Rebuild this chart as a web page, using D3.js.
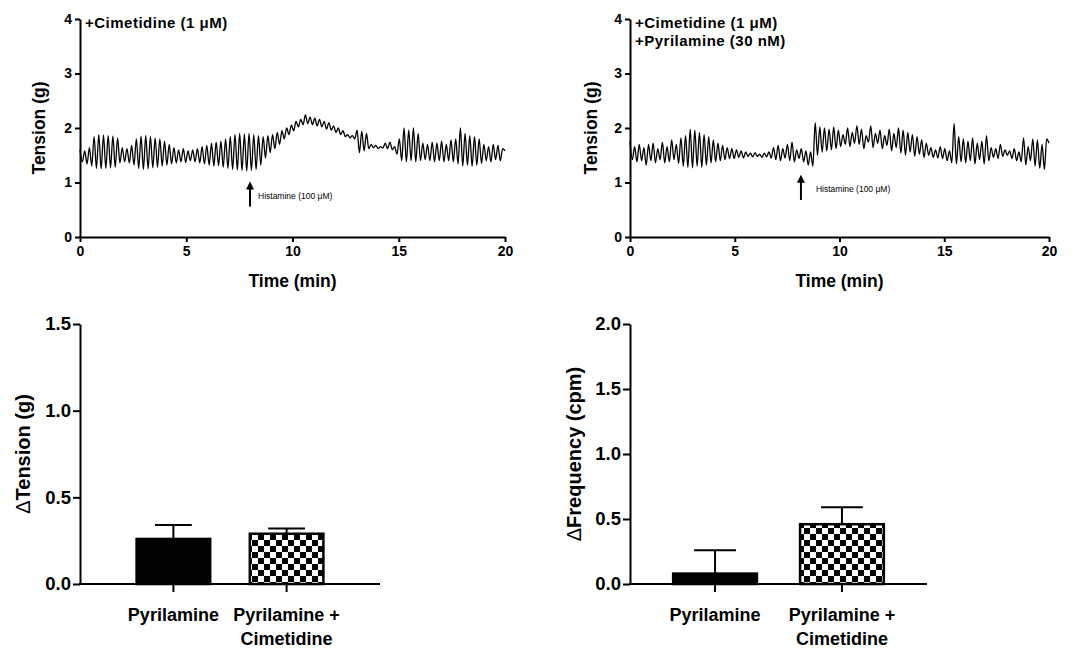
<!DOCTYPE html>
<html>
<head>
<meta charset="utf-8">
<script src="https://cdn.jsdelivr.net/npm/d3@7"></script>
<style>
  body { margin: 0; background: white; }
  svg { font-family: "Liberation Sans", Arial, sans-serif; font-weight: bold; }
  .axis path, .axis line { stroke: black; stroke-width: 2px; }
  .axis text { fill: black; font-family: "Liberation Sans", Arial, sans-serif; font-weight: bold; }
</style>
</head>
<body>
<svg width="1088" height="650"></svg>
<script>
// tension recordings, one sample every 20/181 min
var traceCimetidine = [
  1.60, 1.38, 1.58, 1.34, 1.64, 1.30, 1.84, 1.26, 1.88,
  1.25, 1.87, 1.26, 1.86, 1.27, 1.85, 1.28, 1.82, 1.36,
  1.64, 1.38, 1.62, 1.36, 1.68, 1.32, 1.80, 1.26, 1.85,
  1.24, 1.86, 1.25, 1.84, 1.27, 1.82, 1.28, 1.80, 1.30,
  1.76, 1.32, 1.70, 1.34, 1.64, 1.36, 1.60, 1.38, 1.62,
  1.37, 1.58, 1.40, 1.60, 1.38, 1.62, 1.36, 1.66, 1.34,
  1.68, 1.32, 1.72, 1.30, 1.74, 1.31, 1.76, 1.28, 1.80,
  1.26, 1.84, 1.24, 1.88, 1.23, 1.90, 1.22, 1.89, 1.21,
  1.90, 1.22, 1.88, 1.24, 1.86, 1.32, 1.84, 1.45, 1.86,
  1.55, 1.88, 1.62, 1.92, 1.70, 1.95, 1.80, 2.00, 1.88,
  2.05, 1.95, 2.12, 2.02, 2.16, 2.06, 2.24, 2.08, 2.20,
  2.06, 2.18, 2.04, 2.16, 2.02, 2.12, 1.98, 2.10, 1.96,
  2.04, 1.92, 2.00, 1.88, 1.95, 1.84, 1.88, 1.82, 1.86,
  1.80, 1.96, 1.55, 1.94, 1.58, 1.90, 1.62, 1.70, 1.64,
  1.68, 1.62, 1.66, 1.63, 1.72, 1.62, 1.74, 1.60, 1.66,
  1.52, 1.80, 1.40, 2.00, 1.38, 1.96, 1.40, 2.00, 1.38,
  1.90, 1.40, 1.72, 1.42, 1.70, 1.40, 1.74, 1.38, 1.72,
  1.40, 1.76, 1.38, 1.70, 1.40, 1.78, 1.38, 1.80, 1.34,
  2.00, 1.30, 1.90, 1.32, 1.86, 1.30, 1.84, 1.32, 1.80,
  1.35, 1.70, 1.40, 1.66, 1.38, 1.70, 1.42, 1.68, 1.40,
  1.62, 1.58
]

var tracePyrilamine = [
  1.76, 1.42, 1.66, 1.38, 1.70, 1.40, 1.64, 1.32, 1.70,
  1.40, 1.72, 1.36, 1.62, 1.42, 1.74, 1.36, 1.66, 1.38,
  1.78, 1.42, 1.70, 1.35, 1.82, 1.30, 1.86, 1.28, 1.98,
  1.27, 1.96, 1.30, 1.92, 1.28, 1.88, 1.32, 1.84, 1.36,
  1.78, 1.38, 1.72, 1.40, 1.68, 1.42, 1.64, 1.44, 1.62,
  1.44, 1.60, 1.46, 1.58, 1.45, 1.56, 1.48, 1.54, 1.47,
  1.55, 1.48, 1.52, 1.46, 1.54, 1.47, 1.56, 1.45, 1.64,
  1.42, 1.68, 1.40, 1.62, 1.45, 1.70, 1.40, 1.74, 1.38,
  1.60, 1.44, 1.62, 1.38, 1.58, 1.32, 1.56, 1.30, 2.10,
  1.50, 2.02, 1.56, 2.00, 1.58, 1.98, 1.60, 2.02, 1.62,
  1.96, 1.66, 1.88, 1.70, 2.00, 1.66, 1.92, 1.72, 2.04,
  1.70, 1.98, 1.62, 1.86, 1.74, 2.04, 1.64, 1.90, 1.72,
  1.96, 1.62, 1.86, 1.68, 1.98, 1.58, 1.90, 1.64, 2.00,
  1.54, 1.96, 1.50, 1.92, 1.56, 1.88, 1.48, 1.84, 1.52,
  1.78, 1.46, 1.72, 1.50, 1.64, 1.46, 1.60, 1.45, 1.66,
  1.44, 1.62, 1.40, 1.58, 1.36, 2.08, 1.34, 1.84, 1.38,
  1.80, 1.36, 1.76, 1.40, 1.82, 1.34, 1.72, 1.42, 1.76,
  1.34, 1.86, 1.40, 1.64, 1.46, 1.62, 1.44, 1.70, 1.48,
  1.60, 1.50, 1.58, 1.44, 1.62, 1.40, 1.56, 1.38, 1.82,
  1.32, 1.66, 1.40, 1.80, 1.30, 1.78, 1.26, 1.70, 1.24,
  1.80, 1.72
]

var traceMinutes = 20
var tensionTicks = [0, 1, 2, 3, 4]
var timeTicks = [0, 5, 10, 15, 20]
var histamineTime = [8, 8.16]
var histamineArrow = [[0.56, 1.02], [0.68, 1.14]]
var traceNotes = [
  ["+Cimetidine (1 \u03bcM)"],
  ["+Cimetidine (1 \u03bcM)", "+Pyrilamine (30 nM)"]
]

var categories = ["Pyrilamine", "Pyrilamine + Cimetidine"]
var categoryLines = [["Pyrilamine"], ["Pyrilamine +", "Cimetidine"]]
var tensionMean = [0.26, 0.29]
var tensionSem = [0.08, 0.03]
var frequencyMean = [0.08, 0.46]
var frequencySem = [0.18, 0.13]
var tensionBarTicks = [0, 0.5, 1.0, 1.5]
var frequencyBarTicks = [0, 0.5, 1.0, 1.5, 2.0]

var svg = d3.select("svg")

var pattern = svg.append("defs").append("pattern")
  .attr("id", "checker")
  .attr("patternUnits", "userSpaceOnUse")
  .attr("width", 12).attr("height", 12)
pattern.append("rect").attr("width", 12).attr("height", 12).attr("fill", "white")
pattern.append("rect").attr("width", 6).attr("height", 6).attr("fill", "black")
pattern.append("rect").attr("x", 6).attr("y", 6).attr("width", 6).attr("height", 6).attr("fill", "black")

function tracePanel(box, data, k) {
  let
    time = d3.scaleLinear().domain([0, traceMinutes]).range([box.left, box.right]),
    tension = d3.scaleLinear().domain([0, 4]).range([box.bottom, box.top]),
    step = traceMinutes / (data.length - 1)

  let line = d3.line()
    .x((d, i) => time(i * step))
    .y(d => tension(d))
    .curve(d3.curveMonotoneX)

  svg.append("path")
    .attr("d", line(data))
    .attr("fill", "none")
    .attr("stroke", "black")
    .attr("stroke-width", 1.3)

  svg.append("g").attr("class", "axis")
    .attr("transform", `translate(0,${box.bottom})`)
    .call(d3.axisBottom(time).tickValues(timeTicks).tickFormat(d3.format("d"))
      .tickSize(5).tickSizeOuter(0).tickPadding(4))
    .selectAll("text").style("font-size", "14px")

  svg.append("g").attr("class", "axis")
    .attr("transform", `translate(${box.left},0)`)
    .call(d3.axisLeft(tension).tickValues(tensionTicks).tickFormat(d3.format("d"))
      .tickSize(5).tickSizeOuter(0).tickPadding(3))
    .selectAll("text").style("font-size", "14px")

  svg.append("text")
    .attr("x", (box.left + box.right) / 2)
    .attr("y", box.bottom + 50)
    .style("text-anchor", "middle")
    .style("font-size", "17.5px")
    .text("Time (min)")

  svg.append("text")
    .attr("transform", `translate(${box.titleX},${(box.top + box.bottom) / 2}) rotate(270)`)
    .style("text-anchor", "middle")
    .style("dominant-baseline", "middle")
    .style("font-size", "17.5px")
    .text("Tension (g)")

  traceNotes[k].forEach((note, i) => {
    svg.append("text")
      .attr("x", box.left + 5)
      .attr("y", 28 + i * 17.5)
      .style("font-size", "15px")
      .style("letter-spacing", "0.5px")
      .text(note)
  })

  let
    ax = time(histamineTime[k]),
    [a0, a1] = histamineArrow[k].map(v => tension(v))

  svg.append("line")
    .attr("x1", ax).attr("x2", ax)
    .attr("y1", a0).attr("y2", a1 + 6)
    .attr("stroke", "black")
    .attr("stroke-width", 2)

  svg.append("path")
    .attr("d", `M${ax - 4},${a1 + 8} L${ax},${a1} L${ax + 4},${a1 + 8} Z`)
    .attr("fill", "black")

  svg.append("text")
    .attr("x", ax + box.noteGap)
    .attr("y", (a0 + a1) / 2 + 5)
    .style("font-size", "8.5px")
    .style("font-weight", "normal")
    .text("Histamine (100 \u03bcM)")
}

function barPanel(box, mean, sem, yTicks, yMax, title) {
  let
    x = d3.scaleBand().domain(categories).range([box.left, box.right])
      .paddingInner(box.padInner).paddingOuter(box.padOuter),
    y = d3.scaleLinear().domain([0, yMax]).range([box.bottom, box.top])

  svg.append("g").selectAll("rect")
    .data(categories)
    .join("rect")
    .attr("x", d => x(d))
    .attr("width", x.bandwidth())
    .attr("y", (d, i) => y(mean[i]))
    .attr("height", (d, i) => y(0) - y(mean[i]))
    .attr("fill", (d, i) => i == 0 ? "black" : "url(#checker)")
    .attr("stroke", "black")
    .attr("stroke-width", 2.5)

  let err = svg.append("g").attr("stroke", "black").attr("stroke-width", 2)
  categories.forEach((c, i) => {
    let cx = x(c) + x.bandwidth() / 2, cap = x.bandwidth() / 4
    err.append("line")
      .attr("x1", cx).attr("x2", cx)
      .attr("y1", y(mean[i])).attr("y2", y(mean[i] + sem[i]))
    err.append("line")
      .attr("x1", cx - cap).attr("x2", cx + cap)
      .attr("y1", y(mean[i] + sem[i])).attr("y2", y(mean[i] + sem[i]))
  })

  let xAxis = svg.append("g").attr("class", "axis")
    .attr("transform", `translate(0,${box.bottom})`)
    .call(d3.axisBottom(x).tickSize(8).tickSizeOuter(0).tickFormat(""))
  xAxis.select(".domain").attr("d", `M${box.left - 1},0H${box.right}`)

  categories.forEach((c, i) => {
    let t = svg.append("text")
      .attr("x", x(c) + x.bandwidth() / 2)
      .attr("y", box.bottom + 37)
      .style("text-anchor", "middle")
      .style("font-size", "18px")
    categoryLines[i].forEach((s, j) => {
      t.append("tspan")
        .attr("x", x(c) + x.bandwidth() / 2)
        .attr("dy", j == 0 ? 0 : 24)
        .text(s)
    })
  })

  svg.append("g").attr("class", "axis")
    .attr("transform", `translate(${box.left},0)`)
    .call(d3.axisLeft(y).tickValues(yTicks).tickFormat(d3.format(".1f")).tickSize(7).tickSizeOuter(0).tickPadding(2))
    .selectAll("text").style("font-size", "18.5px")

  let label = svg.append("text")
    .attr("transform", `translate(${box.titleX},${(box.top + box.bottom) / 2}) rotate(270)`)
    .style("text-anchor", "middle")
    .style("dominant-baseline", "middle")
    .style("font-size", "20px")
  label.append("tspan").style("font-weight", "normal").text("\u0394")
  label.append("tspan").text(title)
}

tracePanel({ left: 80, right: 505, top: 19, bottom: 237, titleX: 40, noteGap: 8 }, traceCimetidine, 0)
tracePanel({ left: 630, right: 1049, top: 19, bottom: 237, titleX: 592, noteGap: 15 }, tracePyrilamine, 1)

barPanel({ left: 80, right: 380, top: 324, bottom: 584, padInner: 0.35, padOuter: 0.5, titleX: 25 },
  tensionMean, tensionSem, tensionBarTicks, 1.5, "Tension (g)")
barPanel({ left: 630, right: 927, top: 324, bottom: 584, padInner: 0.34, padOuter: 0.34, titleX: 576 },
  frequencyMean, frequencySem, frequencyBarTicks, 2.0, "Frequency (cpm)")
</script>
</body>
</html>
